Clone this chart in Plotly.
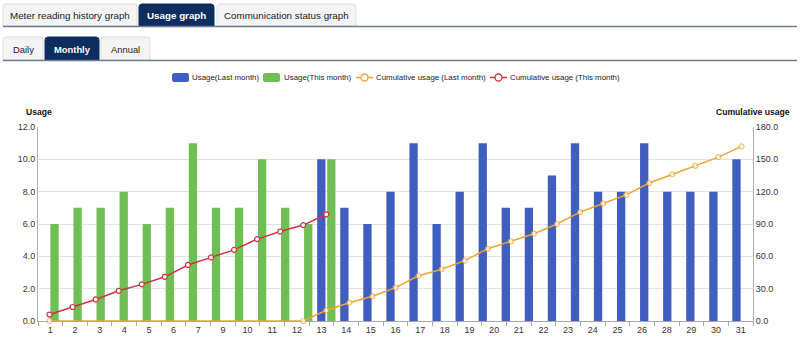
import plotly.graph_objects as go

# ---------------- data ----------------
days = list(range(1, 32))
tick_labels = ["1", "2", "3", "4", "5", "6", "7", "9", "10", "11", "12", "13", "14", "15",
               "16", "17", "18", "19", "20", "21", "22", "23", "24", "25", "26", "28", "29", "30", "31"]

this_month_days = list(range(1, 14))
usage_this_month = [6, 7, 7, 8, 6, 7, 11, 7, 7, 10, 7, 6, 10]
cum_this_month = [6, 13, 20, 28, 34, 41, 52, 59, 66, 76, 83, 89, 99]

last_month_days = list(range(13, 32))
usage_last_month = [10, 7, 6, 8, 11, 6, 8, 11, 7, 7, 9, 11, 8, 8, 11, 8, 8, 8, 10]
cum_last_month = [0, 0, 0, 0, 0, 0, 0, 0, 0, 0, 0, 0,
                  10, 17, 23, 31, 42, 48, 56, 67, 74, 81, 90, 101, 109, 117, 128, 136, 144, 152, 162]

series_names = ["Usage(Last month)", "Usage(This month)",
                "Cumulative usage (Last month)", "Cumulative usage (This month)"]

# ---------------- style ----------------
W, H = 800, 339
ML, MR, MT, MB = 38, 47, 127, 18
PW, PH = W - ML - MR, H - MT - MB
FONT = "Liberation Sans, Arial, Helvetica, sans-serif"
NAVY = "#0d2d5e"
BLUE = "#3f5ec0"
GREEN = "#6fbf55"
ORANGE = "#eda532"
RED = "#d0343e"


def px(x):
    return (x - ML) / PW


def py(y):
    return (H - MB - y) / PH


fig = go.Figure()
fig.add_trace(go.Bar(x=last_month_days, y=usage_last_month, name=series_names[0],
                     marker=dict(color=BLUE, line=dict(width=0))))
fig.add_trace(go.Bar(x=this_month_days, y=usage_this_month, name=series_names[1],
                     marker=dict(color=GREEN, line=dict(width=0))))

last_sizes = []
for i, v in enumerate(cum_last_month):
    nxt = cum_last_month[i + 1] if i + 1 < len(cum_last_month) else v
    last_sizes.append(5 if (i == 0 or v > 0 or nxt > 0) else 0)

fig.add_trace(go.Scatter(x=days, y=cum_last_month, name=series_names[2],
                         yaxis="y2", mode="lines+markers", cliponaxis=False,
                         line=dict(color=ORANGE, width=1.5),
                         marker=dict(symbol="circle", size=last_sizes, color="white",
                                     line=dict(color=ORANGE, width=1.2))))
fig.add_trace(go.Scatter(x=this_month_days, y=cum_this_month, name=series_names[3],
                         yaxis="y2", mode="lines+markers", cliponaxis=False,
                         line=dict(color=RED, width=1.5),
                         marker=dict(symbol="circle", size=5, color="white",
                                     line=dict(color=RED, width=1.2))))

n_lab = len(tick_labels)
span = len(days)
lab_pos = [0.5 + (i + 0.5) * span / n_lab for i in range(n_lab)]
bound_pos = [0.5 + k * span / n_lab for k in range(n_lab + 1)]

shapes = []
annotations = []


def rounded_top(x0, x1, y0, y1, r):
    X0, X1, Yb, Yt = px(x0), px(x1), py(y1), py(y0)
    rx, ry = r / PW, r / PH
    return (f"M {X0},{Yb} L {X0},{Yt - ry} Q {X0},{Yt} {X0 + rx},{Yt} "
            f"L {X1 - rx},{Yt} Q {X1},{Yt} {X1},{Yt - ry} L {X1},{Yb} Z")


def rounded_rect(x0, x1, y0, y1, r):
    X0, X1, Yb, Yt = px(x0), px(x1), py(y1), py(y0)
    rx, ry = r / PW, r / PH
    return (f"M {X0 + rx},{Yb} L {X1 - rx},{Yb} Q {X1},{Yb} {X1},{Yb + ry} "
            f"L {X1},{Yt - ry} Q {X1},{Yt} {X1 - rx},{Yt} L {X0 + rx},{Yt} "
            f"Q {X0},{Yt} {X0},{Yt - ry} L {X0},{Yb + ry} Q {X0},{Yb} {X0 + rx},{Yb} Z")


def tab(x0, x1, y0, y1, label, active, size):
    shapes.append(dict(type="path", xref="paper", yref="paper", path=rounded_top(x0, x1, y0, y1, 3),
                       fillcolor=NAVY if active else "#f4f4f4",
                       line=dict(color=NAVY if active else "#dedede", width=1), layer="above"))
    annotations.append(dict(xref="paper", yref="paper", x=px((x0 + x1) / 2), y=py((y0 + y1) / 2 + 0.5),
                            text=f"<b>{label}</b>" if active else label, showarrow=False,
                            xanchor="center", yanchor="middle",
                            font=dict(family=FONT, size=size, color="white" if active else "#1a1a1a")))


tab(3, 137, 4, 26, "Meter reading history graph", False, 9.8)
tab(139, 214, 4, 26, "Usage graph", True, 9.8)
tab(217, 356, 4, 26, "Communication status graph", False, 9.8)
tab(3, 43, 37, 60, "Daily", False, 9.4)
tab(45, 99, 37, 60, "Monthly", True, 9.4)
tab(101, 150, 37, 60, "Annual", False, 9.4)

for yl in (26.5, 60.5):
    shapes.append(dict(type="line", xref="paper", yref="paper", x0=px(3), x1=px(797),
                       y0=py(yl), y1=py(yl), line=dict(color="#6f7b8d", width=1.5)))

# ---- legend (drawn as shapes + text) ----
LEG_Y = 77.5
leg_items = [
    ("bar", BLUE, 172, 189, 191, series_names[0]),
    ("bar", GREEN, 263, 280, 283, series_names[1]),
    ("line", ORANGE, 356, 373, 375, series_names[2]),
    ("line", RED, 490, 507, 509, series_names[3]),
]
for kind, col, s0, s1, tx, name in leg_items:
    if kind == "bar":
        shapes.append(dict(type="path", xref="paper", yref="paper",
                           path=rounded_rect(s0, s1, LEG_Y - 4.5, LEG_Y + 4.5, 2.5),
                           fillcolor=col, line=dict(width=0)))
    else:
        shapes.append(dict(type="line", xref="paper", yref="paper", x0=px(s0), x1=px(s1),
                           y0=py(LEG_Y), y1=py(LEG_Y), line=dict(color=col, width=1.5)))
        cx = (s0 + s1) / 2
        shapes.append(dict(type="circle", xref="paper", yref="paper",
                           x0=px(cx - 3.5), x1=px(cx + 3.5), y0=py(LEG_Y + 3.5), y1=py(LEG_Y - 3.5),
                           fillcolor="white", line=dict(color=col, width=1.3)))
    annotations.append(dict(xref="paper", yref="paper", x=px(tx), y=py(LEG_Y), text=name,
                            showarrow=False, xanchor="left", yanchor="middle",
                            xshift=-1, font=dict(family=FONT, size=7.9, color="#1a1a1a")))

annotations.append(dict(xref="paper", yref="paper", x=px(39), y=py(112), text="<b>Usage</b>",
                        showarrow=False, xanchor="center", yanchor="middle",
                        font=dict(family=FONT, size=8.6, color="#111")))
annotations.append(dict(xref="paper", yref="paper", x=px(752.5), y=py(112), text="<b>Cumulative usage</b>",
                        showarrow=False, xanchor="center", yanchor="middle",
                        font=dict(family=FONT, size=8.6, color="#111")))

TICKFONT = dict(family=FONT, size=9, color="#333")
fig.update_layout(
    width=W, height=H,
    margin=dict(l=ML, r=MR, t=MT, b=MB),
    paper_bgcolor="white", plot_bgcolor="white",
    font=dict(family=FONT, size=9, color="#333"),
    barmode="group", bargap=0.133, bargroupgap=0.17,
    showlegend=False,
    xaxis=dict(range=[0.5, 31.5], tickmode="array", tickvals=lab_pos, ticktext=tick_labels,
               ticks="", showgrid=False, zeroline=False, showline=True, linecolor="#a8a8a8",
               linewidth=1, layer="below traces", tickfont=TICKFONT, automargin=False,
               minor=dict(tickmode="array", tickvals=bound_pos, ticks="outside", ticklen=4,
                          tickcolor="#a8a8a8", showgrid=False)),
    yaxis=dict(range=[0, 12], dtick=2, tickformat=".1f", showgrid=True, gridcolor="#e3e3e3",
               zeroline=False, showline=True, linecolor="#b0b0b0", ticks="", automargin=False,
               tickfont=TICKFONT, layer="below traces"),
    yaxis2=dict(range=[0, 180], dtick=30, tickformat=".1f", overlaying="y", side="right",
                showgrid=False, zeroline=False, showline=True, linecolor="#b0b0b0", ticks="",
                automargin=False, tickfont=TICKFONT, layer="below traces"),
    shapes=shapes,
    annotations=annotations,
)

fig.write_html("out.html")
